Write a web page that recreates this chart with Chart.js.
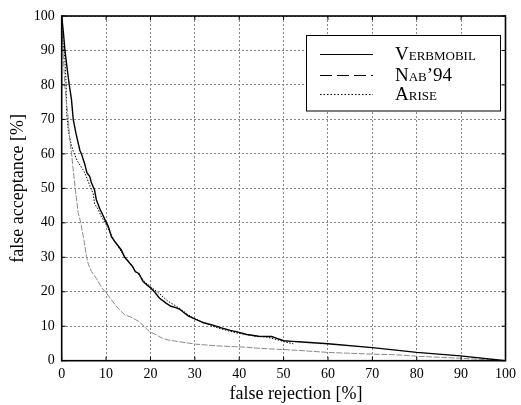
<!DOCTYPE html>
<html>
<head>
<meta charset="utf-8">
<script src="https://cdn.jsdelivr.net/npm/chart.js@4.4.0/dist/chart.umd.min.js"></script>
<style>
html,body{margin:0;padding:0;background:#fff;}
#wrap{width:521px;height:405px;position:relative;}
</style>
</head>
<body>
<div id="wrap"><canvas id="c" width="521" height="405"></canvas></div>
<script>
// ---- data ----
const tickValues = [0, 10, 20, 30, 40, 50, 60, 70, 80, 90, 100];

const verbmobilFR = [0, 0.4, 0.74, 1.2, 1.7, 2.2, 2.6, 3.2, 4.1, 4.5, 5.2, 5.7, 6.3, 6.7, 7.4, 7.8, 8.6, 9.0, 9.9, 10.5, 11.2, 12, 13.4, 14.2, 15.2, 16, 16.6, 17.4, 18.3, 19.2, 20.1, 20.9, 22, 23.5, 24.6, 25.7, 26.5, 27.5, 28.5, 30.2, 32, 33.9, 36, 38, 40, 41.7, 44.4, 47.3, 48.5, 50, 52, 53.3, 60, 70, 80, 89.8, 100];
const verbmobilFA = [100, 95, 90, 85, 80, 75.8, 70, 66, 61, 59.8, 57, 54.5, 53.5, 51.6, 49.5, 46.7, 44, 43, 40.5, 39, 36, 34.5, 32.2, 30, 28.5, 27.3, 25.8, 25.3, 23, 22, 21, 20, 18.2, 16.7, 15.8, 15.4, 15, 14, 13, 12, 11, 10.4, 9.5, 8.8, 8.2, 7.6, 7.1, 7.0, 6.5, 5.8, 5.6, 5.5, 4.9, 3.8, 2.4, 1.4, 0];

const nab94FR = [0, 0.2, 0.3, 0.7, 1.0, 1.5, 1.9, 2.2, 3.0, 3.7, 4.3, 5.0, 5.6, 6.0, 6.7, 7.8, 9, 10.1, 11, 12, 13, 14.2, 15.5, 17.5, 18.5, 19.8, 21, 22.7, 24, 26.5, 30.2, 35, 41.7, 44.4, 53.3, 60, 70, 75.7, 80, 89.8, 100];
const nab94FA = [100, 92, 90, 80, 75.8, 70, 63, 60.3, 50.5, 43, 40, 35, 30.2, 28, 25.9, 23.9, 21.2, 19.6, 18, 16.3, 14.8, 13.3, 12.7, 11.3, 10, 8.4, 7.7, 6.5, 6, 5.5, 4.8, 4.3, 3.9, 3.6, 3.0, 2.4, 1.9, 1.7, 1.3, 0.7, 0];

const ariseFR = [0, 0.3, 0.7, 1.0, 1.1, 1.5, 2.2, 2.6, 3.5, 4.8, 5.2, 6.7, 7.1, 7.4, 8.2, 8.9, 10, 11, 12, 13, 14, 15, 16, 17, 18, 19, 20, 21, 22, 23, 24, 25.7, 27, 28.5, 30, 32, 34, 36, 38, 40, 42, 44, 46, 48.8, 50.5, 52.2];
const ariseFA = [100, 92, 88, 80, 72, 66.6, 62.5, 60.8, 58, 55.4, 54.5, 49.6, 48.5, 45.5, 44, 41.9, 39.5, 37, 34.5, 32.5, 30.5, 29, 27, 25.5, 24, 22.5, 21.5, 20.5, 19.5, 18.3, 17.2, 15.9, 14.8, 13.3, 12.2, 11, 10, 9.2, 8.5, 7.9, 7.5, 7.0, 6.9, 6.0, 5.4, 4.9];

const seriesLabels = ['Verbmobil', 'Nab\u201994', 'Arise'];
const xTitle = 'false rejection [%]';
const yTitle = 'false acceptance [%]';

function pts(xs, ys) { return xs.map((x, i) => ({x: x, y: ys[i]})); }

const SERIF = '"Liberation Serif", "Times New Roman", serif';

// legend sample styles
const legendDash = [[], [12, 5], [1.5, 2]];

const framePlugin = {
  id: 'frame',
  afterDraw(chart) {
    const {ctx, chartArea: a} = chart;
    ctx.save();
    // inner tick marks
    ctx.strokeStyle = '#000';
    ctx.lineWidth = 1;
    const xs = chart.scales.x, ys = chart.scales.y;
    const tl = 4;
    tickValues.forEach(v => {
      const px = xs.getPixelForValue(v);
      ctx.beginPath();
      ctx.moveTo(px, a.bottom); ctx.lineTo(px, a.bottom - tl);
      ctx.moveTo(px, a.top); ctx.lineTo(px, a.top + tl);
      ctx.stroke();
      const py = ys.getPixelForValue(v);
      ctx.beginPath();
      ctx.moveTo(a.left, py); ctx.lineTo(a.left + tl, py);
      ctx.moveTo(a.right, py); ctx.lineTo(a.right - tl, py);
      ctx.stroke();
    });
    // frame
    ctx.lineWidth = 1.6;
    ctx.strokeRect(a.left, a.top, a.right - a.left, a.bottom - a.top);

    // x title (drawn slightly right of centre as in the reference)
    ctx.fillStyle = '#000';
    ctx.font = '18px ' + SERIF;
    ctx.textAlign = 'center';
    ctx.textBaseline = 'middle';
    ctx.fillText(xTitle, 296, 394);

    // legend box
    const bx = 306.5, by = 35.5, bw = 194, bh = 75.5;
    ctx.fillStyle = '#fff';
    ctx.fillRect(bx, by, bw, bh);
    ctx.lineWidth = 1;
    ctx.strokeStyle = '#000';
    ctx.strokeRect(bx, by, bw, bh);
    const rows = [54.5, 75.5, 94.5];
    chart.data.datasets.forEach((ds, i) => {
      const y = rows[i];
      ctx.save();
      ctx.strokeStyle = '#000';
      ctx.lineWidth = 1;
      ctx.setLineDash(legendDash[i]);
      ctx.beginPath();
      ctx.moveTo(320, y); ctx.lineTo(373, y);
      ctx.stroke();
      ctx.restore();
      ctx.fillStyle = '#000';
      ctx.font = 'small-caps 19px ' + SERIF;
      try { ctx.fontVariantCaps = 'small-caps'; } catch (e) {}
      ctx.textAlign = 'left';
      ctx.textBaseline = 'middle';
      ctx.fillText(ds.label, 395, y + 1);
    });
    ctx.restore();
  }
};

new Chart(document.getElementById('c'), {
  type: 'scatter',
  data: {
    datasets: [
      {label: seriesLabels[0], data: pts(verbmobilFR, verbmobilFA), showLine: true,
       borderColor: '#000', borderWidth: 1.4, pointRadius: 0, tension: 0},
      {label: seriesLabels[1], data: pts(nab94FR, nab94FA), showLine: true,
       borderColor: '#8a8a8a', borderWidth: 1, borderDash: [6, 1.5], pointRadius: 0, tension: 0},
      {label: seriesLabels[2], data: pts(ariseFR, ariseFA), showLine: true,
       borderColor: '#000', borderWidth: 1, borderDash: [1.5, 1.5], pointRadius: 0, tension: 0}
    ]
  },
  options: {
    responsive: false,
    animation: false,
    devicePixelRatio: 1,
    layout: {padding: {left: 0, top: 16, right: 12.3, bottom: 0}},
    plugins: {legend: {display: false}, tooltip: {enabled: false}},
    scales: {
      x: {
        type: 'linear', min: 0, max: 100,
        afterBuildTicks: s => { s.ticks = tickValues.map(v => ({value: v})); },
        afterFit: s => { s.height = 44.3; },
        grid: {color: '#888', lineWidth: 1, drawTicks: false},
        border: {display: false, dash: [2, 2]},
        ticks: {color: '#000', padding: 5, maxRotation: 0, font: {family: SERIF, size: 14}},
        title: {display: false, text: xTitle}
      },
      y: {
        type: 'linear', min: 0, max: 100,
        afterBuildTicks: s => { s.ticks = tickValues.map(v => ({value: v})); },
        afterFit: s => { s.width = 61.7; },
        grid: {color: '#888', lineWidth: 1, drawTicks: false},
        border: {display: false, dash: [2, 2]},
        ticks: {color: '#000', padding: 7, font: {family: SERIF, size: 14}},
        title: {display: true, text: yTitle, color: '#000',
                font: {family: SERIF, size: 18}, padding: {top: 7, bottom: 0}}
      }
    }
  },
  plugins: [framePlugin]
});
</script>
</body>
</html>
